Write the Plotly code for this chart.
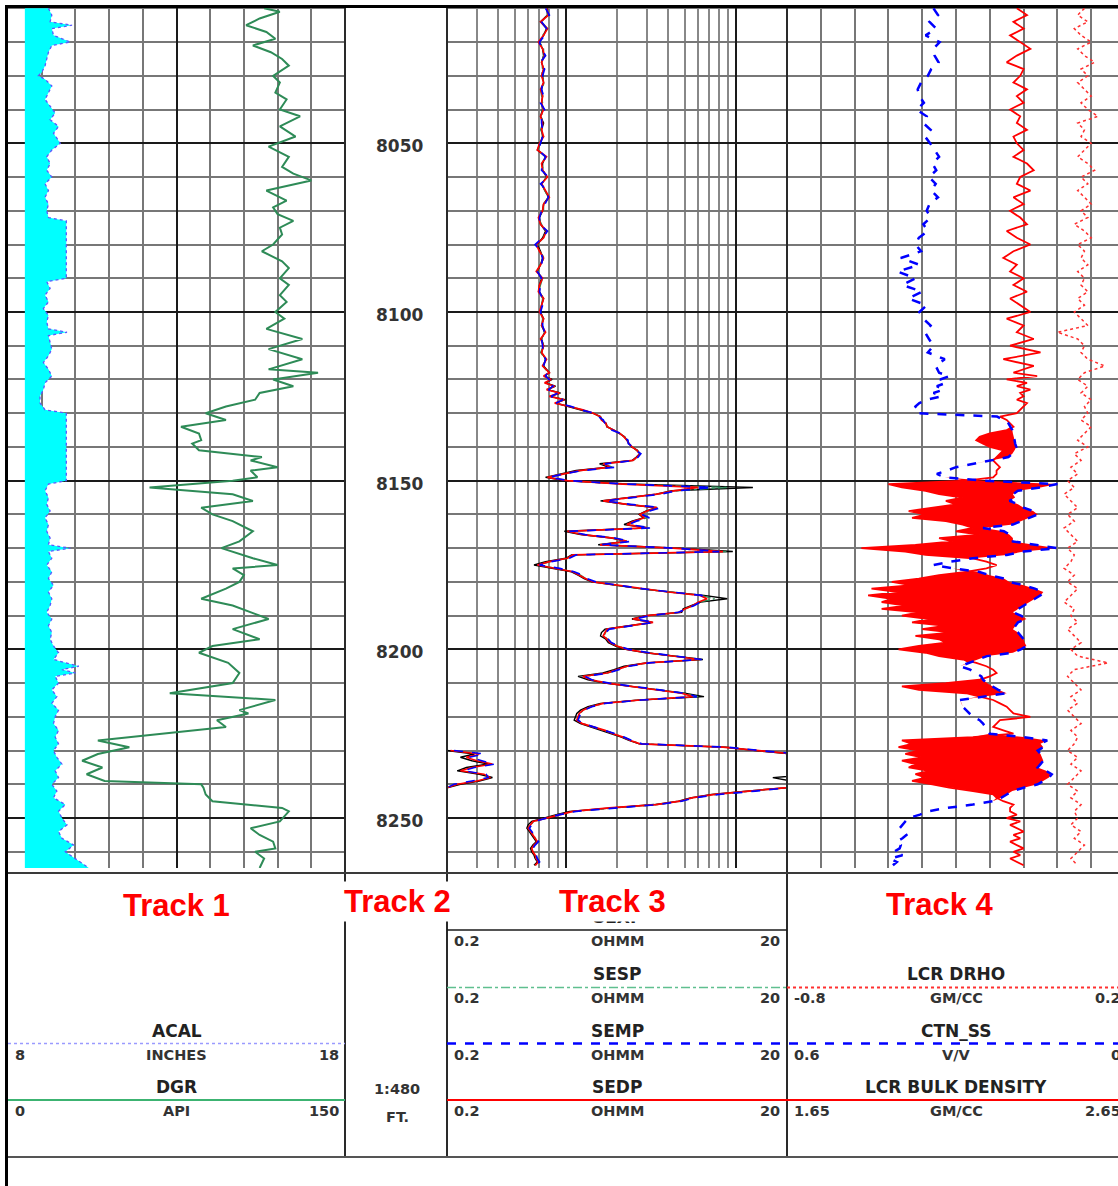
import math
import plotly.graph_objects as go

W, H = 1118, 1186

# ---------------------------------------------------------------- data
depth_ticks = [8050, 8100, 8150, 8200, 8250]

# Track 1 : DGR (API) and ACAL (inches)
gr_depth = [8010, 8011, 8013, 8015, 8017, 8019, 8021, 8023, 8025, 8027,
            8030, 8032, 8035, 8037, 8040, 8042, 8045, 8048, 8051, 8054,
            8057, 8059, 8061, 8064, 8067, 8069, 8071, 8073, 8075, 8077,
            8080, 8082, 8085, 8087, 8090, 8092, 8095, 8097, 8100, 8102,
            8105, 8108, 8111, 8114, 8117, 8118, 8120, 8122, 8124, 8126,
            8128, 8130, 8132, 8134, 8136, 8138, 8139, 8141, 8143, 8144,
            8146, 8147, 8149, 8150, 8152, 8154, 8156, 8158, 8160, 8162,
            8165, 8168, 8170, 8173, 8175, 8176, 8178, 8180, 8182, 8185,
            8187, 8188, 8191, 8194, 8197, 8199, 8201, 8204, 8207, 8210,
            8211, 8213, 8215, 8218, 8219, 8221, 8223, 8225, 8227, 8229,
            8231, 8233, 8235, 8237, 8239, 8240, 8241, 8243, 8245, 8247,
            8248, 8251, 8253, 8255, 8257, 8259, 8260, 8262, 8264.8]
gr_api = [114, 121, 112, 106, 115, 119, 109, 117, 122, 125,
          118, 121, 119, 124, 121, 130, 121, 128, 116, 125,
          122, 127, 135, 115, 124, 118, 120, 127, 121, 122,
          118, 113, 122, 125, 121, 125, 121, 124, 119, 123,
          115, 131, 116, 131, 116, 138, 118, 127, 112, 110,
          97, 88, 97, 77, 85, 86, 82, 85, 113, 108,
          120, 108, 111, 100, 63, 100, 109, 86, 91, 100,
          109, 103, 95, 109, 120, 100, 105, 103, 97, 86,
          100, 104, 116, 100, 112, 91, 85, 98, 103, 100,
          90, 72, 119, 103, 107, 93, 97, 70, 40, 54,
          40, 33, 42, 35, 43, 86, 87, 88, 91, 122,
          125, 121, 108, 112, 118, 119, 110, 114, 112]

cal_depth = [8010, 8012, 8014, 8015, 8016, 8018, 8020, 8021, 8023, 8025,
             8027, 8029, 8030, 8031, 8033, 8035, 8037, 8039, 8041, 8043,
             8045, 8047, 8049, 8050, 8052, 8054, 8056, 8058, 8060, 8062,
             8064, 8066, 8068, 8070, 8072, 8073, 8090, 8091, 8093, 8095,
             8097, 8099, 8101, 8103, 8105, 8106, 8107, 8109, 8111, 8113,
             8115, 8117, 8119, 8121, 8123, 8125, 8127, 8129, 8130, 8150,
             8151, 8153, 8155, 8157, 8159, 8161, 8163, 8165, 8167, 8169,
             8170, 8171, 8173, 8175, 8177, 8179, 8181, 8183, 8185, 8187,
             8189, 8191, 8193, 8195, 8197, 8199, 8201, 8203, 8205, 8206,
             8207, 8208, 8210, 8212, 8214, 8216, 8218, 8220, 8222, 8224,
             8226, 8228, 8230, 8232, 8234, 8236, 8238, 8240, 8242, 8244,
             8246, 8248, 8250, 8252, 8254, 8256, 8258, 8260, 8262, 8264.8]
cal_in = [9.20, 9.30, 9.25, 9.90, 9.30, 9.35, 9.85, 9.30, 9.20, 9.15,
          9.10, 9.00, 8.90, 9.10, 9.30, 9.20, 9.10, 9.25, 9.40, 9.25,
          9.50, 9.35, 9.50, 9.55, 9.30, 9.15, 9.25, 9.15, 9.30, 9.10,
          9.20, 9.10, 9.20, 9.15, 9.20, 9.73, 9.73, 9.15, 9.25, 9.10,
          9.20, 9.05, 9.20, 9.15, 9.20, 9.75, 9.20, 9.25, 9.30, 9.20,
          9.05, 9.20, 9.30, 9.10, 9.05, 8.95, 8.95, 9.10, 9.73, 9.73,
          9.20, 9.10, 9.20, 9.15, 9.25, 9.10, 9.20, 9.15, 9.25, 9.20,
          9.85, 9.20, 9.30, 9.15, 9.30, 9.20, 9.35, 9.20, 9.30, 9.25,
          9.15, 9.30, 9.20, 9.30, 9.25, 9.35, 9.50, 9.35, 10.1, 9.60,
          10.0, 9.40, 9.50, 9.30, 9.45, 9.30, 9.50, 9.40, 9.35, 9.50,
          9.40, 9.50, 9.35, 9.45, 9.60, 9.40, 9.50, 9.30, 9.45, 9.35,
          9.70, 9.50, 9.60, 9.75, 9.50, 9.60, 9.95, 9.70, 10.0, 10.4]
bit_size = 8.5

# Tracks 3 and 4 share this sampling (2 ft above 8118, 1 ft below)
depth_b = list(range(8010, 8118, 2)) + list(range(8118, 8265))

# Track 3 : resistivity (ohm-m)
sexp = [0.78, 0.78, 0.71, 0.77, 0.74, 0.70, 0.73, 0.74, 0.72, 0.74,
        0.73, 0.74, 0.72, 0.73, 0.72, 0.73, 0.71, 0.74, 0.72, 0.73,
        0.71, 0.68, 0.76, 0.73, 0.73, 0.77, 0.72, 0.75, 0.79, 0.74,
        0.73, 0.70, 0.71, 0.76, 0.73, 0.68, 0.71, 0.73, 0.71, 0.68,
        0.72, 0.70, 0.70, 0.74, 0.72, 0.71, 0.74, 0.72, 0.75, 0.72,
        0.74, 0.72, 0.76, 0.74,
        0.80, 0.75, 0.83, 0.76, 0.87, 0.78, 0.93, 0.81, 0.99, 0.87,
        1.04, 1.25, 1.44, 1.60, 1.63, 1.73, 1.74, 1.92, 2.06, 2.22,
        2.28, 2.36, 2.44, 2.64, 2.72, 2.60, 2.45, 1.58, 1.78, 1.15,
        0.92, 0.76, 1.00, 2.30, 12.6, 4.20, 3.40, 2.35, 1.60, 2.25,
        3.40, 2.95, 2.70, 2.85, 2.45, 2.20, 2.95, 0.98, 1.22, 1.85,
        2.25, 1.55, 4.60, 9.60, 1.08, 1.00, 0.76, 0.65, 0.86, 1.08,
        1.18, 1.28, 1.42, 1.95, 2.70, 4.10, 6.50, 8.90, 6.20, 5.50,
        4.90, 4.80, 2.95, 2.45, 3.20, 2.35, 1.70, 1.62, 1.60, 1.72,
        1.78, 1.96, 2.25, 2.95, 4.20, 6.40, 2.95, 2.20, 1.92, 1.65,
        1.18, 1.35, 1.70, 2.45, 3.40, 5.00, 6.50, 2.70, 1.60, 1.35,
        1.22, 1.16, 1.14, 1.12, 1.22, 1.40, 1.65, 1.88, 2.12, 2.35,
        2.70, 8.80, 13.0, 21.5, 27.0, 29.0, 31.0, 34.0, 25.0, 30.0,
        16.5, 21.0, 20.8, 20.0, 11.5, 7.20, 5.40, 4.60, 3.30, 1.75,
        1.05, 0.88, 0.75, 0.63, 0.60, 0.59, 0.61, 0.63, 0.65, 0.67,
        0.64, 0.62, 0.63, 0.65, 0.66, 0.68, 0.65]
sesp = [0.77, 0.78, 0.72, 0.78, 0.73, 0.70, 0.74, 0.74, 0.72, 0.73,
        0.72, 0.75, 0.71, 0.72, 0.73, 0.73, 0.72, 0.73, 0.71, 0.74,
        0.70, 0.69, 0.76, 0.72, 0.74, 0.77, 0.72, 0.75, 0.79, 0.74,
        0.74, 0.69, 0.72, 0.76, 0.74, 0.68, 0.70, 0.75, 0.70, 0.68,
        0.73, 0.71, 0.69, 0.73, 0.72, 0.71, 0.73, 0.72, 0.75, 0.72,
        0.74, 0.71, 0.76, 0.73,
        0.79, 0.75, 0.81, 0.76, 0.85, 0.78, 0.91, 0.81, 0.97, 0.87,
        1.06, 1.24, 1.46, 1.57, 1.64, 1.71, 1.76, 1.88, 2.09, 2.19,
        2.30, 2.34, 2.46, 2.60, 2.74, 2.64, 2.50, 1.68, 1.88, 1.22,
        0.96, 0.79, 1.03, 2.20, 9.00, 4.40, 3.50, 2.45, 1.68, 2.34,
        3.50, 3.05, 2.76, 3.00, 2.55, 2.32, 3.10, 1.03, 1.28, 1.92,
        2.34, 1.60, 4.30, 8.80, 1.12, 1.03, 0.81, 0.69, 0.90, 1.11,
        1.22, 1.31, 1.47, 2.02, 2.76, 4.10, 6.20, 7.50, 6.10, 5.65,
        5.05, 4.65, 3.05, 2.50, 3.28, 2.42, 1.77, 1.71, 1.68, 1.76,
        1.83, 2.02, 2.32, 3.05, 4.30, 6.20, 3.05, 2.32, 2.02, 1.76,
        1.28, 1.41, 1.77, 2.52, 3.47, 4.90, 6.00, 2.76, 1.68, 1.41,
        1.27, 1.21, 1.19, 1.17, 1.26, 1.46, 1.71, 1.92, 2.18, 2.42,
        2.76, 8.70, 13.6, 22.5, 28.5, 30.5, 32.5, 35.5, 33.5, 30.5,
        25.5, 22.5, 21.2, 20.2, 12.5, 7.70, 5.60, 4.75, 3.45, 1.85,
        1.12, 0.91, 0.77, 0.65, 0.62, 0.61, 0.62, 0.65, 0.66, 0.69,
        0.65, 0.64, 0.64, 0.67, 0.67, 0.70, 0.66]
semp = [0.76, 0.80, 0.72, 0.77, 0.75, 0.70, 0.72, 0.76, 0.71, 0.75,
        0.73, 0.73, 0.72, 0.74, 0.71, 0.75, 0.72, 0.72, 0.73, 0.73,
        0.71, 0.69, 0.76, 0.73, 0.72, 0.79, 0.71, 0.77, 0.79, 0.75,
        0.72, 0.70, 0.70, 0.78, 0.73, 0.66, 0.71, 0.73, 0.72, 0.68,
        0.72, 0.71, 0.70, 0.73, 0.73, 0.71, 0.73, 0.73, 0.75, 0.72,
        0.73, 0.73, 0.76, 0.74,
        0.78, 0.76, 0.80, 0.77, 0.84, 0.79, 0.90, 0.82, 0.96, 0.88,
        1.08, 1.22, 1.48, 1.55, 1.66, 1.70, 1.78, 1.86, 2.10, 2.18,
        2.32, 2.33, 2.48, 2.58, 2.76, 2.66, 2.52, 1.70, 1.95, 1.25,
        0.97, 0.80, 1.05, 2.25, 7.30, 4.50, 3.60, 2.50, 1.70, 2.40,
        3.60, 3.10, 2.80, 3.10, 2.60, 2.35, 3.20, 1.05, 1.30, 1.95,
        2.40, 1.62, 4.40, 8.00, 1.15, 1.05, 0.82, 0.70, 0.92, 1.12,
        1.25, 1.33, 1.50, 2.05, 2.80, 4.20, 6.30, 6.50, 6.20, 5.70,
        5.10, 4.60, 3.10, 2.55, 3.30, 2.45, 1.80, 1.72, 1.70, 1.78,
        1.85, 2.05, 2.35, 3.10, 4.40, 6.30, 3.10, 2.35, 2.05, 1.78,
        1.30, 1.42, 1.80, 2.55, 3.50, 5.00, 5.90, 2.80, 1.70, 1.42,
        1.28, 1.22, 1.20, 1.18, 1.27, 1.48, 1.72, 1.95, 2.20, 2.45,
        2.80, 9.00, 14.0, 23.0, 29.0, 31.0, 33.0, 36.0, 34.0, 31.0,
        26.0, 23.0, 21.5, 20.5, 13.0, 8.00, 5.70, 4.80, 3.50, 1.90,
        1.15, 0.92, 0.78, 0.65, 0.63, 0.61, 0.63, 0.65, 0.67, 0.69,
        0.66, 0.64, 0.65, 0.67, 0.68, 0.70, 0.67]
sedp = [0.77, 0.79, 0.71, 0.78, 0.74, 0.69, 0.73, 0.75, 0.72, 0.74,
        0.72, 0.74, 0.71, 0.73, 0.72, 0.74, 0.71, 0.73, 0.72, 0.74,
        0.70, 0.68, 0.77, 0.72, 0.73, 0.78, 0.72, 0.76, 0.80, 0.74,
        0.73, 0.69, 0.71, 0.77, 0.74, 0.67, 0.70, 0.74, 0.71, 0.67,
        0.73, 0.70, 0.69, 0.74, 0.72, 0.70, 0.74, 0.72, 0.76, 0.71,
        0.74, 0.72, 0.77, 0.73,
        0.80, 0.74, 0.82, 0.75, 0.86, 0.77, 0.92, 0.80, 0.98, 0.86,
        1.05, 1.26, 1.45, 1.59, 1.62, 1.72, 1.75, 1.90, 2.08, 2.20,
        2.29, 2.35, 2.45, 2.62, 2.73, 2.62, 2.48, 1.66, 1.82, 1.20,
        0.95, 0.78, 1.02, 2.17, 6.00, 4.30, 3.44, 2.40, 1.66, 2.29,
        3.44, 3.00, 2.73, 2.90, 2.50, 2.29, 3.00, 1.02, 1.26, 1.90,
        2.29, 1.59, 4.27, 8.40, 1.10, 1.02, 0.80, 0.68, 0.89, 1.10,
        1.20, 1.30, 1.45, 2.00, 2.73, 4.00, 6.16, 6.77, 6.00, 5.60,
        5.00, 4.70, 3.00, 2.48, 3.26, 2.40, 1.75, 1.70, 1.66, 1.75,
        1.82, 2.00, 2.29, 3.00, 4.27, 6.16, 3.00, 2.29, 2.00, 1.75,
        1.26, 1.40, 1.75, 2.50, 3.44, 4.80, 5.60, 2.73, 1.66, 1.40,
        1.26, 1.20, 1.18, 1.16, 1.25, 1.45, 1.70, 1.90, 2.17, 2.40,
        2.73, 8.40, 13.3, 22.0, 28.0, 30.0, 32.0, 35.0, 33.0, 30.0,
        25.0, 22.0, 21.0, 20.0, 12.0, 7.50, 5.50, 4.70, 3.40, 1.80,
        1.10, 0.90, 0.77, 0.64, 0.62, 0.60, 0.62, 0.64, 0.66, 0.68,
        0.65, 0.63, 0.64, 0.66, 0.67, 0.69, 0.66]

# backup (wrap-around) readings, 20-2000 ohm-m scale
wrap_depth = [8230, 8231, 8232, 8233, 8234, 8235, 8236, 8237, 8238, 8239, 8240, 8241]
sexp_wrap = [20, 29, 24, 28, 35, 26, 23, 31, 37, 31, 24, 20]
sedp_wrap = [21, 31, 26, 30, 37, 28, 24, 33, 36, 30, 23, 20]
semp_wrap = [22, 33, 27, 32, 38, 29, 25, 34, 35, 28, 22, 20]

# Track 4 : bulk density (g/cc), neutron (v/v), DRHO (g/cc)
rhob = [2.33, 2.36, 2.32, 2.35, 2.31, 2.34, 2.37, 2.33, 2.30, 2.35,
        2.34, 2.32, 2.36, 2.33, 2.35, 2.31, 2.34, 2.33, 2.36, 2.32,
        2.33, 2.35, 2.32, 2.36, 2.38, 2.34, 2.33, 2.37, 2.32, 2.35,
        2.31, 2.34, 2.36, 2.30, 2.33, 2.37, 2.32, 2.29, 2.33, 2.31,
        2.35, 2.32, 2.36, 2.31, 2.34, 2.37, 2.30, 2.35, 2.33, 2.38,
        2.31, 2.40, 2.29, 2.38,
        2.32, 2.39, 2.30, 2.36, 2.33, 2.37, 2.34, 2.35, 2.33, 2.36,
        2.35, 2.34, 2.33, 2.28, 2.30, 2.31, 2.32, 2.30, 2.25, 2.22,
        2.21, 2.23, 2.25, 2.29, 2.28, 2.27, 2.26, 2.27, 2.28, 2.27,
        2.27, 2.26, 2.18, 1.95, 1.99, 2.06, 2.10, 2.17, 2.12, 2.15,
        2.08, 2.01, 2.06, 2.02, 2.12, 2.17, 2.20, 2.15, 2.22, 2.10,
        2.14, 2.03, 1.87, 2.00, 2.06, 2.20, 2.24, 2.27, 2.24, 2.18,
        2.10, 2.04, 1.96, 2.02, 1.90, 1.98, 1.89, 1.96, 1.93, 2.00,
        1.93, 2.04, 1.99, 2.07, 2.02, 2.12, 2.05, 2.14, 2.03, 2.10,
        2.12, 2.04, 1.98, 2.06, 2.10, 2.17, 2.21, 2.24, 2.26, 2.27,
        2.25, 2.22, 2.12, 1.99, 2.04, 2.18, 2.22, 2.26, 2.28, 2.30,
        2.31, 2.32, 2.37, 2.28, 2.27, 2.26, 2.29, 2.32, 2.20, 1.99,
        2.02, 1.98, 2.04, 2.00, 2.05, 1.99, 2.03, 2.01, 2.07, 2.03,
        2.06, 2.02, 2.08, 2.13, 2.20, 2.26, 2.27, 2.29, 2.32, 2.31,
        2.31, 2.33, 2.30, 2.34, 2.31, 2.33, 2.35, 2.32, 2.34, 2.31,
        2.33, 2.35, 2.32, 2.34, 2.31, 2.33, 2.35]
nphi = [0.340, 0.332, 0.347, 0.335, 0.354, 0.329, 0.340, 0.338, 0.331, 0.344,
        0.350, 0.362, 0.368, 0.365, 0.357, 0.370, 0.352, 0.358, 0.345, 0.355,
        0.346, 0.338, 0.330, 0.342, 0.335, 0.348, 0.336, 0.344, 0.332, 0.347,
        0.352, 0.345, 0.358, 0.350, 0.366, 0.372, 0.362, 0.398, 0.365, 0.404,
        0.372, 0.395, 0.360, 0.385, 0.352, 0.365, 0.358, 0.345, 0.355, 0.348,
        0.340, 0.350, 0.320, 0.336,
        0.330, 0.312, 0.328, 0.318, 0.334, 0.322, 0.340, 0.326, 0.352, 0.365,
        0.372, 0.368, 0.370, 0.227, 0.215, 0.207, 0.203, 0.200, 0.199, 0.197,
        0.196, 0.195, 0.193, 0.196, 0.200, 0.207, 0.240, 0.270, 0.300, 0.316,
        0.334, 0.320, 0.250, 0.120, 0.150, 0.190, 0.199, 0.195, 0.205, 0.190,
        0.180, 0.163, 0.155, 0.170, 0.185, 0.199, 0.252, 0.215, 0.205, 0.199,
        0.199, 0.160, 0.120, 0.180, 0.210, 0.270, 0.310, 0.340, 0.305, 0.260,
        0.240, 0.215, 0.205, 0.180, 0.160, 0.145, 0.150, 0.160, 0.170, 0.180,
        0.190, 0.199, 0.185, 0.175, 0.190, 0.195, 0.199, 0.190, 0.185, 0.180,
        0.178, 0.175, 0.185, 0.199, 0.245, 0.262, 0.280, 0.293, 0.275, 0.265,
        0.255, 0.252, 0.245, 0.235, 0.225, 0.210, 0.250, 0.293, 0.290, 0.288,
        0.282, 0.276, 0.270, 0.258, 0.252, 0.248, 0.243, 0.240, 0.180, 0.138,
        0.150, 0.145, 0.155, 0.150, 0.148, 0.145, 0.150, 0.155, 0.140, 0.130,
        0.135, 0.145, 0.155, 0.180, 0.200, 0.210, 0.220, 0.235, 0.270, 0.316,
        0.350, 0.364, 0.385, 0.390, 0.395, 0.400, 0.392, 0.388, 0.395, 0.405,
        0.398, 0.400, 0.410, 0.395, 0.417, 0.405, 0.412]
drho_depth = list(range(8010, 8265, 2))
drho = [0.08, 0.06, 0.09, 0.05, 0.07, 0.10, 0.06, 0.08, 0.11, 0.07,
        0.09, 0.06, 0.08, 0.10, 0.07, 0.09, 0.12, 0.06, 0.08, 0.07,
        0.10, 0.08, 0.06, 0.09, 0.11, 0.07, 0.09, 0.06, 0.08, 0.10,
        0.07, 0.09, 0.05, 0.08, 0.10, 0.06, 0.08, 0.07, 0.09, 0.06,
        0.08, 0.07, 0.09, 0.06, 0.08, 0.05, 0.07, 0.09, 0.00, 0.06,
        0.08, 0.07, 0.09, 0.14, 0.08, 0.06, 0.09, 0.07, 0.10, 0.08,
        0.09, 0.07, 0.10, 0.08, 0.06, 0.09, 0.05, 0.07, 0.04, 0.06,
        0.03, 0.05, 0.02, 0.04, 0.06, 0.03, 0.05, 0.02, 0.04, 0.06,
        0.03, 0.05, 0.04, 0.02, 0.05, 0.03, 0.06, 0.04, 0.02, 0.05,
        0.04, 0.06, 0.03, 0.05, 0.07, 0.04, 0.06, 0.15, 0.05, 0.03,
        0.05, 0.07, 0.04, 0.06, 0.03, 0.05, 0.07, 0.04, 0.06, 0.05,
        0.03, 0.06, 0.04, 0.07, 0.05, 0.03, 0.06, 0.04, 0.07, 0.05,
        0.06, 0.04, 0.07, 0.05, 0.08, 0.06, 0.04, 0.06]

# scale ends of the curves (header)
rhob_scale = (1.65, 2.65)
nphi_scale = (0.6, 0.0)
drho_scale = (-0.8, 0.2)
res_scale = (0.2, 20)
gr_scale = (0, 150)
cal_scale = (8, 18)

# ---------------------------------------------------------------- layout helpers
def px(x):
    return x / W


def py(y):
    return 1 - y / H


T1 = (8, 345)
T3 = (447, 787)
T4 = (787, 1125)      # right edge lies just outside the window
LOG_TOP, LOG_BOT = 7, 868
DEPTH_TOP, DEPTH_BOT = 8009.6, 8264.8

vis = (W - T4[0]) / (T4[1] - T4[0])  # visible fraction of track 4

GRID_MINOR = "#777777"
GRID_MAJOR = "#1a1a1a"

fig = go.Figure()

# ---- Track 1
fig.add_trace(go.Scatter(x=gr_api, y=gr_depth, xaxis="x", yaxis="y", mode="lines",
                         line=dict(color="#2e8b57", width=2), hoverinfo="skip"))
fig.add_trace(go.Scatter(x=[bit_size] * len(cal_depth), y=cal_depth, xaxis="x2", yaxis="y",
                         mode="lines", line=dict(width=0), hoverinfo="skip"))
fig.add_trace(go.Scatter(x=cal_in, y=cal_depth, xaxis="x2", yaxis="y", mode="lines",
                         fill="tonextx", fillcolor="#00ffff",
                         line=dict(color="#5a5aff", width=1.3, dash="dot"), hoverinfo="skip"))

# ---- Track 3
res_styles = [(sexp, "#000000", "solid", 1.4), (sesp, "#2e8b57", "dashdot", 1.3),
              (sedp, "#ff0000", "solid", 1.7), (semp, "#0000ff", "dash", 1.7)]
for vals, col, dash, wid in res_styles:
    fig.add_trace(go.Scatter(x=vals, y=depth_b, xaxis="x3", yaxis="y", mode="lines",
                             line=dict(color=col, width=wid, dash=dash), hoverinfo="skip"))
wrap_styles = [(sexp_wrap, "#000000", "solid"), (sedp_wrap, "#ff0000", "solid"),
               (semp_wrap, "#0000ff", "dash")]
for vals, col, dash in wrap_styles:
    fig.add_trace(go.Scatter(x=[v / 100 for v in vals], y=wrap_depth, xaxis="x3", yaxis="y",
                             mode="lines", line=dict(color=col, width=1.5, dash=dash),
                             hoverinfo="skip"))

# ---- Track 4 : crossover shading (neutron expressed on the density scale)
nphi_on_rhob = [rhob_scale[0] + (nphi_scale[0] - n) / (nphi_scale[0] - nphi_scale[1])
                * (rhob_scale[1] - rhob_scale[0]) for n in nphi]
fig.add_trace(go.Scatter(x=nphi_on_rhob, y=depth_b, xaxis="x4", yaxis="y", mode="lines",
                         line=dict(width=0), hoverinfo="skip"))
fig.add_trace(go.Scatter(x=[min(d, n) for d, n in zip(rhob, nphi_on_rhob)], y=depth_b,
                         xaxis="x4", yaxis="y", mode="lines", fill="tonextx",
                         fillcolor="#ff0000", line=dict(width=0), hoverinfo="skip"))
fig.add_trace(go.Scatter(x=rhob, y=depth_b, xaxis="x4", yaxis="y", mode="lines",
                         line=dict(color="#ff0000", width=1.8), hoverinfo="skip"))
fig.add_trace(go.Scatter(x=nphi, y=depth_b, xaxis="x5", yaxis="y", mode="lines",
                         line=dict(color="#0000ff", width=2.5, dash="dash"), hoverinfo="skip"))
fig.add_trace(go.Scatter(x=drho, y=drho_depth, xaxis="x6", yaxis="y", mode="lines",
                         line=dict(color="#ff3030", width=1.5, dash="dot"), hoverinfo="skip"))

hidden = dict(showticklabels=False, ticks="", zeroline=False, showline=False)

fig.update_layout(
    width=W, height=H, margin=dict(l=0, r=0, t=0, b=0, pad=0),
    paper_bgcolor="white", plot_bgcolor="white", showlegend=False,
    yaxis=dict(domain=[py(LOG_BOT), py(LOG_TOP)], range=[DEPTH_BOT, DEPTH_TOP], anchor="x",
               tickmode="linear", tick0=8000, dtick=50, showgrid=True,
               gridcolor=GRID_MAJOR, gridwidth=2.2,
               minor=dict(tickmode="linear", tick0=8000, dtick=10, showgrid=True,
                          gridcolor=GRID_MINOR, gridwidth=1.8), **hidden),
    xaxis=dict(domain=[px(T1[0]), px(T1[1])], range=list(gr_scale), anchor="y",
               tickmode="linear", tick0=0, dtick=75, showgrid=True,
               gridcolor=GRID_MAJOR, gridwidth=2.2,
               minor=dict(tickmode="linear", tick0=0, dtick=15, showgrid=True,
                          gridcolor=GRID_MINOR, gridwidth=1.8), **hidden),
    xaxis2=dict(overlaying="x", range=list(cal_scale), anchor="y", visible=False),
    xaxis3=dict(domain=[px(T3[0]), px(T3[1])], type="log",
                range=[math.log10(res_scale[0]), math.log10(res_scale[1])], anchor="y",
                tickmode="array", tickvals=[1, 10], showgrid=True,
                gridcolor=GRID_MAJOR, gridwidth=2.2,
                minor=dict(tickmode="array",
                           tickvals=[0.3, 0.4, 0.5, 0.6, 0.7, 0.8, 0.9, 2, 3, 4, 5, 6, 7, 8, 9],
                           showgrid=True, gridcolor="#888888", gridwidth=1.6), **hidden),
    xaxis4=dict(domain=[px(T4[0]), 1.0],
                range=[rhob_scale[0], rhob_scale[0] + vis * (rhob_scale[1] - rhob_scale[0])],
                anchor="y", tickmode="linear", tick0=rhob_scale[0], dtick=0.1, showgrid=True,
                gridcolor=GRID_MINOR, gridwidth=1.8, **hidden),
    xaxis5=dict(overlaying="x4", anchor="y", visible=False,
                range=[nphi_scale[0], nphi_scale[0] + vis * (nphi_scale[1] - nphi_scale[0])]),
    xaxis6=dict(overlaying="x4", anchor="y", visible=False,
                range=[drho_scale[0], drho_scale[0] + vis * (drho_scale[1] - drho_scale[0])]),
)

# ---------------------------------------------------------------- frame and header lines
shapes = []


def hline(y, x0, x1, color, width, dash="solid"):
    shapes.append(dict(type="line", xref="paper", yref="paper", x0=px(x0), x1=px(x1),
                       y0=py(y), y1=py(y), line=dict(color=color, width=width, dash=dash)))


def vline(x, y0, y1, color, width):
    shapes.append(dict(type="line", xref="paper", yref="paper", x0=px(x), x1=px(x),
                       y0=py(y0), y1=py(y1), line=dict(color=color, width=width)))


for xb in (345, 447, 787):
    vline(xb, LOG_TOP, 1157, "#2a2a2a", 2)
hline(873, 7, W, "#3a3a3a", 2)
hline(1157, 7, W, "#555555", 2)
hline(6.5, 5, W, "#000000", 3)
vline(6.5, 5, H, "#000000", 3)

# header key lines
hline(930, 447, 787, "#1a1a1a", 1.5)
hline(987.5, 447, 787, "#5fbf8f", 1.5, "dashdot")
hline(987.5, 787, W, "#ff3030", 2, "dot")
hline(1043.5, 8, 345, "#9a9aff", 1.5, "dot")
hline(1043.5, 447, W, "#0000ff", 2.5, "dash")
hline(1100, 8, 345, "#3cb371", 2)
hline(1100, 447, W, "#ff0000", 2)
fig.update_layout(shapes=shapes)

# ---------------------------------------------------------------- text
ann = []


def txt(x, y, s, size, color="#222222", xanchor="center", family="DejaVu Sans",
        bg=None, yref="paper"):
    a = dict(x=px(x), y=(py(y) if yref == "paper" else y), xref="paper", yref=yref,
             text=s, showarrow=False, xanchor=xanchor, yanchor="middle",
             font=dict(family=family, size=size, color=color, weight="bold"))
    if bg:
        a.update(bgcolor=bg, borderpad=2)
    return a


for d in depth_ticks:
    a = txt(399.5, d, str(d), 17, "#333333", yref="y")
    a["yshift"] = -3
    ann.append(a)

NAME, UNIT = 17, 14.5
# track 1
c1 = (T1[0] + T1[1]) / 2
ann += [txt(c1, 1031, "ACAL", NAME), txt(c1, 1055, "INCHES", UNIT, "#333333"),
        txt(13, 1055, str(cal_scale[0]), UNIT, "#333333", "left"),
        txt(341, 1055, str(cal_scale[1]), UNIT, "#333333", "right"),
        txt(c1, 1087, "DGR", NAME), txt(c1, 1111, "API", UNIT, "#333333"),
        txt(13, 1111, str(gr_scale[0]), UNIT, "#333333", "left"),
        txt(341, 1111, str(gr_scale[1]), UNIT, "#333333", "right")]
# track 2
ann += [txt(397, 1089, "1:480", UNIT, "#333333"), txt(397, 1117, "FT.", UNIT, "#333333")]
# track 3
c3 = 617
ann.append(txt(c3, 917, "SEXP", NAME))
for yname, name in ((974, "SESP"), (1031, "SEMP"), (1087, "SEDP")):
    ann.append(txt(c3, yname, name, NAME))
for yrow in (941, 998, 1055, 1111):
    ann += [txt(452, yrow, str(res_scale[0]), UNIT, "#333333", "left"),
            txt(c3, yrow, "OHMM", UNIT, "#333333"),
            txt(782, yrow, str(res_scale[1]), UNIT, "#333333", "right")]
# track 4
c4 = 956
ann += [txt(c4, 974, "LCR DRHO", NAME), txt(c4, 998, "GM/CC", UNIT, "#333333"),
        txt(792, 998, str(drho_scale[0]), UNIT, "#333333", "left"),
        txt(1123, 998, str(drho_scale[1]), UNIT, "#333333", "right"),
        txt(c4, 1031, "CTN_SS", NAME), txt(c4, 1055, "V/V", UNIT, "#333333"),
        txt(792, 1055, str(nphi_scale[0]), UNIT, "#333333", "left"),
        txt(1123, 1055, "0", UNIT, "#333333", "right"),
        txt(c4, 1087, "LCR BULK DENSITY", NAME), txt(c4, 1111, "GM/CC", UNIT, "#333333"),
        txt(792, 1111, str(rhob_scale[0]), UNIT, "#333333", "left"),
        txt(1123, 1111, str(rhob_scale[1]), UNIT, "#333333", "right")]
# track titles
TF = "Liberation Sans"
ann += [txt(176.5, 905, "Track 1", 31, "#ff0000", family=TF, bg="white"),
        txt(397, 901, "Track 2", 31, "#ff0000", family=TF, bg="white"),
        txt(612, 901, "Track 3", 31, "#ff0000", family=TF, bg="white"),
        txt(940, 904, "Track 4", 31, "#ff0000", family=TF, bg="white")]
fig.update_layout(annotations=ann)

fig.write_html("out.html", include_plotlyjs=True, config={"displayModeBar": False},
               post_script="document.body.style.margin='0';document.body.style.overflow='hidden';")
